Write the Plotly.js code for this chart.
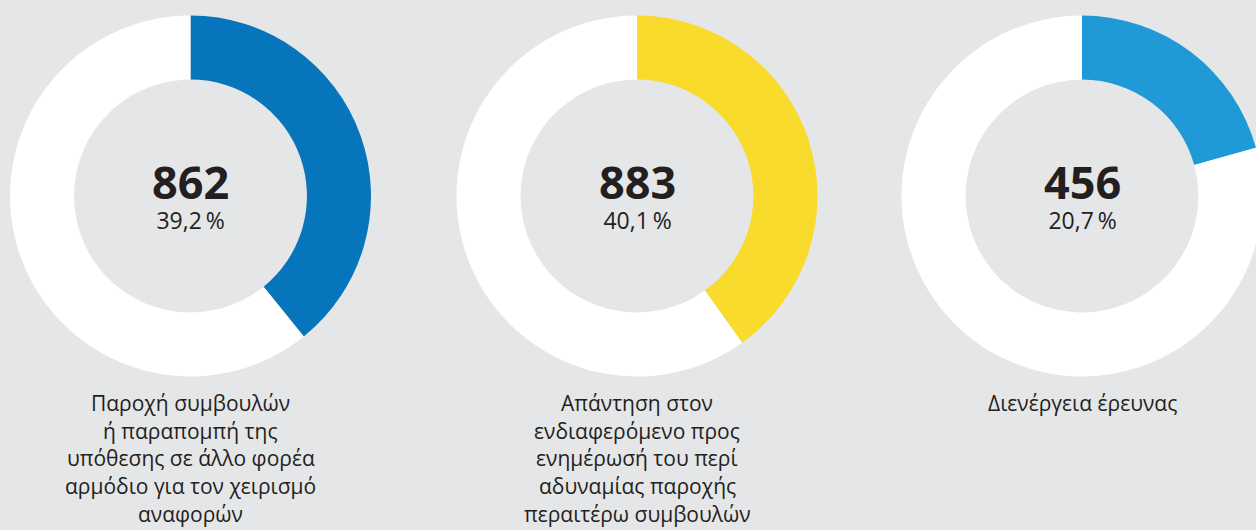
<!DOCTYPE html>
<html>
<head>
<meta charset="utf-8">
<script src="https://cdn.plot.ly/plotly-3.0.1.min.js"></script>
<style>
html,body{margin:0;padding:0;background:#e5e6e8;overflow:hidden;}
#chart{width:1270px;height:530px;}
</style>
</head>
<body>
<div id="chart"></div>
<script>
// Data
const counts = [862, 883, 456];
const percents = [39.2, 40.1, 20.7];
const percentLabels = ["39,2\u2009%", "40,1\u2009%", "20,7\u2009%"];
const categories = [
  ["Παροχή συμβουλών", "ή παραπομπή της", "υπόθεσης σε άλλο φορέα", "αρμόδιο για τον χειρισμό", "αναφορών"],
  ["Απάντηση στον", "ενδιαφερόμενο προς", "ενημέρωσή του περί", "αδυναμίας παροχής", "περαιτέρω συμβουλών"],
  ["Διενέργεια έρευνας"]
];
const colors = ["#0775bb", "#f8db2b", "#209ad6"];

// Layout geometry (pixels)
const W = 1270, H = 530;
const centersX = [190.5, 637, 1082];
const centerY = 196;
const R = 180.5;

const traces = [];
const annotations = [];
const font = "'Open Sans', 'Noto Sans', sans-serif";

counts.forEach((c, i) => {
  const cx = centersX[i];
  traces.push({
    type: "pie",
    values: [percents[i], 100 - percents[i]],
    marker: {colors: [colors[i], "#ffffff"], line: {width: 0}},
    hole: 0.645,
    sort: false,
    direction: "clockwise",
    rotation: 0,
    textinfo: "none",
    hoverinfo: "skip",
    showlegend: false,
    domain: {
      x: [(cx - R) / W, (cx + R) / W],
      y: [(H - centerY - R) / H, (H - centerY + R) / H]
    }
  });
  annotations.push({
    xref: "paper", yref: "paper", x: cx / W, y: (H - 193) / H,
    xanchor: "center", yanchor: "middle", showarrow: false,
    text: "<b><span style='font-size:45px'>" + c + "</span></b><br><span style='font-size:23px'>" + percentLabels[i] + "</span>",
    font: {family: font, size: 23, color: "#231f20"}
  });
  categories[i].forEach((line, j) => {
    annotations.push({
      xref: "paper", yref: "paper", x: cx / W, y: (H - (403 + j * 27.7)) / H,
      xanchor: "center", yanchor: "middle", showarrow: false,
      text: line,
      font: {family: font, size: 21, color: "#231f20"}
    });
  });
});

Plotly.newPlot("chart", traces, {
  width: W, height: H,
  margin: {l: 0, r: 0, t: 0, b: 0},
  paper_bgcolor: "#e5e6e8",
  plot_bgcolor: "#e5e6e8",
  annotations: annotations
}, {displayModeBar: false, staticPlot: true});
</script>
</body>
</html>
